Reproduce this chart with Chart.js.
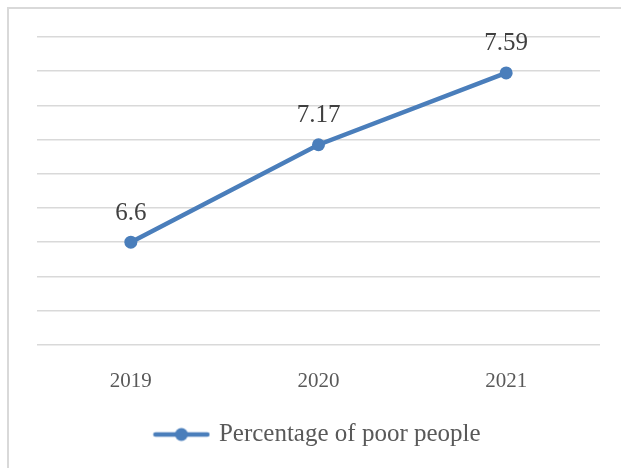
<!DOCTYPE html>
<html>
<head>
<meta charset="utf-8">
<script src="https://cdn.jsdelivr.net/npm/chart.js@4/dist/chart.umd.min.js"></script>
<style>
    html, body { margin: 0; padding: 0; background: #fff; }
    #wrap { position: relative; width: 621px; height: 468px; }
    #frame {
        position: absolute; left: 7px; top: 7px; right: 0; bottom: 0;
        border-top: 2px solid #d9d9d9; border-left: 2px solid #d9d9d9;
    }
    canvas { position: absolute; left: 0; top: 0; }
</style>
</head>
<body>
<div id="wrap">
    <div id="frame"></div>
    <canvas id="poverty-chart" width="621" height="468"></canvas>
</div>
<script>
// Chart data
const years = ['2019', '2020', '2021'];
const poorPercentages = [6.6, 7.17, 7.59];
const seriesLabel = 'Percentage of poor people';

const lineColor = '#4a7ebb';
const serifFont = "'Liberation Serif', 'DejaVu Serif', serif";

// Legend marker: a short line with a dot in the middle
function makeLegendMarker() {
    const c = document.createElement('canvas');
    c.width = 58;
    c.height = 16;
    const g = c.getContext('2d');
    g.strokeStyle = lineColor;
    g.lineWidth = 4.5;
    g.lineCap = 'round';
    g.beginPath();
    g.moveTo(3, 8);
    g.lineTo(55, 8);
    g.stroke();
    g.fillStyle = lineColor;
    g.beginPath();
    g.arc(29, 8, 6.5, 0, Math.PI * 2);
    g.fill();
    return c;
}

// Draw value labels above each point
const valueLabels = {
    id: 'valueLabels',
    afterDatasetsDraw(chart) {
        const ctx = chart.ctx;
        const meta = chart.getDatasetMeta(0);
        ctx.save();
        ctx.font = '25px ' + serifFont;
        ctx.fillStyle = '#404040';
        ctx.textAlign = 'center';
        ctx.textBaseline = 'middle';
        meta.data.forEach((pt, i) => {
            ctx.fillText(String(chart.data.datasets[0].data[i]), pt.x, pt.y - 29);
        });
        ctx.restore();
    }
};

const legendMarker = makeLegendMarker();

new Chart(document.getElementById('poverty-chart').getContext('2d'), {
    type: 'line',
    data: {
        labels: years,
        datasets: [{
            label: seriesLabel,
            data: poorPercentages,
            borderColor: lineColor,
            backgroundColor: lineColor,
            borderWidth: 4.5,
            pointRadius: 6.5,
            pointHoverRadius: 6.5,
            pointBackgroundColor: lineColor,
            pointBorderWidth: 0,
            tension: 0,
            fill: false
        }]
    },
    options: {
        responsive: false,
        animation: false,
        layout: {
            padding: { left: 37, right: 21, top: 37, bottom: 11 }
        },
        plugins: {
            legend: {
                position: 'bottom',
                labels: {
                    usePointStyle: true,
                    pointStyle: legendMarker,
                    pointStyleWidth: 50,
                    boxHeight: 16,
                    color: '#595959',
                    font: { family: serifFont, size: 25 },
                    padding: 4,
                    generateLabels: function(chart) {
                        return [{
                            text: seriesLabel,
                            pointStyle: legendMarker,
                            fillStyle: lineColor,
                            strokeStyle: lineColor,
                            lineWidth: 0,
                            fontColor: '#595959',
                            datasetIndex: 0
                        }];
                    }
                }
            },
            tooltip: { enabled: false }
        },
        scales: {
            x: {
                offset: true,
                grid: { display: false, drawTicks: false },
                border: { display: false },
                ticks: {
                    color: '#595959',
                    font: { family: serifFont, size: 21 },
                    padding: 24
                }
            },
            y: {
                min: 6.0,
                max: 7.8,
                grid: { color: '#d9d9d9', lineWidth: 1.5, drawTicks: false },
                border: { display: false },
                ticks: { display: false, stepSize: 0.2 }
            }
        }
    },
    plugins: [valueLabels]
});
</script>
</body>
</html>
